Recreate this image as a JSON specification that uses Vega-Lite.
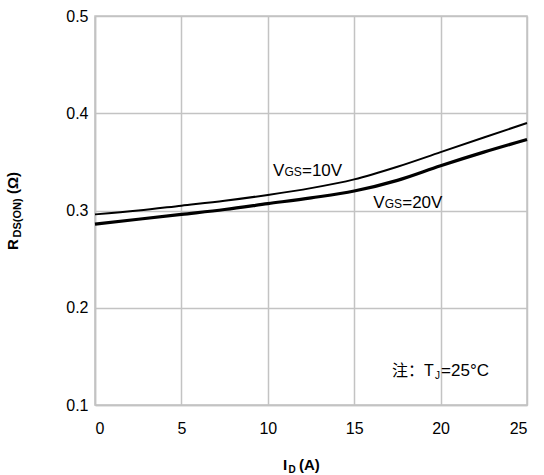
{
  "$schema": "https://vega.github.io/schema/vega-lite/v6.json",
  "autosize": {"type": "none"},
  "width": 432,
  "height": 389,
  "padding": {"left": 95, "top": 16, "right": 17, "bottom": 70},
  "background": "white",
  "config": {
    "font": "Liberation Sans",
    "view": {"stroke": "#c3c3c3", "strokeWidth": 1.5},
    "axis": {
      "grid": true, "gridColor": "#c3c3c3", "gridWidth": 1.5,
      "domainColor": "#c3c3c3", "domainWidth": 1.5,
      "ticks": false, "labelFont": "Liberation Sans", "labelFontSize": 16,
      "labelColor": "#000000", "title": null
    }
  },
  "datasets": {
    "curves": [
      {"id": 0, "r": 0.296, "s": "10V"}, {"id": 2.5, "r": 0.300, "s": "10V"}, {"id": 5, "r": 0.305, "s": "10V"},
      {"id": 7.5, "r": 0.310, "s": "10V"}, {"id": 10, "r": 0.316, "s": "10V"}, {"id": 12.5, "r": 0.323, "s": "10V"},
      {"id": 15, "r": 0.332, "s": "10V"}, {"id": 17.5, "r": 0.345, "s": "10V"}, {"id": 20, "r": 0.360, "s": "10V"},
      {"id": 22.5, "r": 0.375, "s": "10V"}, {"id": 25, "r": 0.390, "s": "10V"},
      {"id": 0, "r": 0.286, "s": "20V"}, {"id": 2.5, "r": 0.291, "s": "20V"}, {"id": 5, "r": 0.296, "s": "20V"},
      {"id": 7.5, "r": 0.301, "s": "20V"}, {"id": 10, "r": 0.307, "s": "20V"}, {"id": 12.5, "r": 0.313, "s": "20V"},
      {"id": 15, "r": 0.320, "s": "20V"}, {"id": 17.5, "r": 0.331, "s": "20V"}, {"id": 20, "r": 0.346, "s": "20V"},
      {"id": 22.5, "r": 0.360, "s": "20V"}, {"id": 25, "r": 0.373, "s": "20V"}
    ],
    "labels": [
      {"x": 10.3, "y": 0.3355, "t1": "V", "t2": "GS", "t3": "=10V"},
      {"x": 16.1, "y": 0.3026, "t1": "V", "t2": "GS", "t3": "=20V"}
    ],
    "note": [{"x": 17.19, "y": 0.1298, "t1": "注：T", "t2": "J", "t3": "=25°C"}],
    "xtitle": [{"x": 10.88, "y": 0.0332, "t1": "I", "t2": "D", "t3": "(A)"}],
    "ytitle": [{"x": -4.46, "y": 0.2594, "t1": "R", "t2": "DS(ON)", "t3": "(Ω)"}]
  },
  "encoding": {
    "x": {"field": "x", "type": "quantitative", "scale": {"domain": [0, 25], "nice": false},
          "axis": {"values": [0, 5, 10, 15, 20, 25], "labelPadding": 15, "labelDx": 4}},
    "y": {"field": "y", "type": "quantitative", "scale": {"domain": [0.1, 0.5], "nice": false},
          "axis": {"values": [0.1, 0.2, 0.3, 0.4, 0.5], "labelPadding": 7, "format": ".1f"}}
  },
  "layer": [
    {
      "data": {"name": "curves"},
      "mark": {"type": "line", "interpolate": "monotone", "color": "#000000"},
      "encoding": {
        "x": {"field": "id", "type": "quantitative"},
        "y": {"field": "r", "type": "quantitative"},
        "detail": {"field": "s"},
        "strokeWidth": {"field": "s", "type": "nominal", "scale": {"domain": ["10V", "20V"], "range": [2, 3.2]}, "legend": null}
      }
    },
    {
      "data": {"name": "labels"},
      "mark": {"type": "text", "align": "left", "baseline": "alphabetic", "fontSize": 17, "color": "#000000"},
      "encoding": {"text": {"field": "t1"}}
    },
    {
      "data": {"name": "labels"},
      "mark": {"type": "text", "align": "left", "baseline": "alphabetic", "fontSize": 12, "dx": 11.5, "color": "#000000"},
      "encoding": {"text": {"field": "t2"}}
    },
    {
      "data": {"name": "labels"},
      "mark": {"type": "text", "align": "left", "baseline": "alphabetic", "fontSize": 17, "dx": 29, "color": "#000000"},
      "encoding": {"text": {"field": "t3"}}
    },
    {
      "data": {"name": "note"},
      "mark": {"type": "text", "align": "left", "baseline": "alphabetic", "fontSize": 16, "font": "Liberation Sans, Noto Sans CJK SC", "color": "#000000"},
      "encoding": {"text": {"field": "t1"}}
    },
    {
      "data": {"name": "note"},
      "mark": {"type": "text", "align": "left", "baseline": "alphabetic", "fontSize": 10, "dx": 43, "dy": 3, "color": "#000000"},
      "encoding": {"text": {"field": "t2"}}
    },
    {
      "data": {"name": "note"},
      "mark": {"type": "text", "align": "left", "baseline": "alphabetic", "fontSize": 17, "dx": 49, "color": "#000000"},
      "encoding": {"text": {"field": "t3"}}
    },
    {
      "data": {"name": "xtitle"},
      "mark": {"type": "text", "align": "left", "baseline": "alphabetic", "fontSize": 15, "fontWeight": "bold", "clip": false, "color": "#000000"},
      "encoding": {"text": {"field": "t1"}}
    },
    {
      "data": {"name": "xtitle"},
      "mark": {"type": "text", "align": "left", "baseline": "alphabetic", "fontSize": 10, "fontWeight": "bold", "dx": 5.5, "dy": 3, "clip": false, "color": "#000000"},
      "encoding": {"text": {"field": "t2"}}
    },
    {
      "data": {"name": "xtitle"},
      "mark": {"type": "text", "align": "left", "baseline": "alphabetic", "fontSize": 15, "fontWeight": "bold", "dx": 16, "clip": false, "color": "#000000"},
      "encoding": {"text": {"field": "t3"}}
    },
    {
      "data": {"name": "ytitle"},
      "mark": {"type": "text", "align": "left", "baseline": "alphabetic", "angle": 270, "fontSize": 15, "fontWeight": "bold", "clip": false, "color": "#000000"},
      "encoding": {"text": {"field": "t1"}}
    },
    {
      "data": {"name": "ytitle"},
      "mark": {"type": "text", "align": "left", "baseline": "alphabetic", "angle": 270, "fontSize": 11, "fontWeight": "bold", "dx": 12.5, "dy": 3, "clip": false, "color": "#000000"},
      "encoding": {"text": {"field": "t2"}}
    },
    {
      "data": {"name": "ytitle"},
      "mark": {"type": "text", "align": "left", "baseline": "alphabetic", "angle": 270, "fontSize": 15, "fontWeight": "bold", "dx": 56, "clip": false, "color": "#000000"},
      "encoding": {"text": {"field": "t3"}}
    }
  ]
}
